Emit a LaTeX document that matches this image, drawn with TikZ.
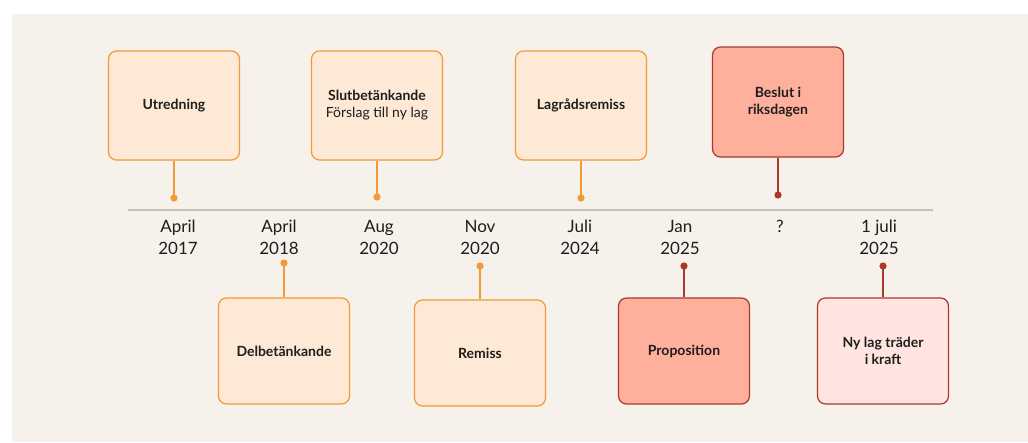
\documentclass[tikz,border=0pt]{standalone}
\usepackage{fontspec}
\setmainfont{Lato}

\definecolor{bgcream}{HTML}{F6F1EB}
\definecolor{axisgray}{HTML}{C4C0BB}
\definecolor{peachfill}{HTML}{FDE9D5}
\definecolor{orangeline}{HTML}{F39A35}
\definecolor{salmonfill}{HTML}{FFB09D}
\definecolor{rosefill}{HTML}{FFE4DF}
\definecolor{redline}{HTML}{A9392B}
\definecolor{textdark}{HTML}{1E1E1E}

\tikzset{
	stage/.style={draw, rounded corners=8pt, line width=1.2pt, minimum width=131pt,
		align=center, text=textdark, font=\fontsize{14}{17}\selectfont\bfseries},
	earlystage/.style={stage, fill=peachfill, draw=orangeline},
	hotstage/.style={stage, fill=salmonfill, draw=redline},
	softstage/.style={stage, fill=rosefill, draw=redline},
	datelabel/.style={align=center, text=textdark, font=\fontsize{17}{21.5}\selectfont},
	orangestem/.style={orangeline, line width=1.5pt},
	redstem/.style={redline, line width=1.5pt}
}

\begin{document}
\begin{tikzpicture}[x=1pt, y=-1pt]
	% Page and background
	\useasboundingbox (0,0) rectangle (1028,442);
	\fill[white] (0,0) rectangle (1028,442);
	\fill[bgcream] (12,14) rectangle (1028,442);

	% Time axis
	\coordinate (axisL) at (128,210);
	\coordinate (axisR) at (933,210);
	\draw[axisgray, line width=1.2pt] (axisL) -- (axisR);

	% Dates under the axis
	\foreach \x/\d [count=\i] in {178/{April\\2017}, 279/{April\\2018}, 379/{Aug\\2020},
		480/{Nov\\2020}, 580/{Juli\\2024}, 680/{Jan\\2025}, 780/{?\\~}, 879/{1 juli\\2025}} {
		\node[datelabel] (date\i) at (\x,237.5) {\d};
	}

	% Stages above the axis
	\node[earlystage, minimum height=109pt] (utredning) at (174,105.5) {Utredning};
	\node[earlystage, minimum height=109pt] (slutbet) at (377,105.5)
		{Slutbetänkande\\{\mdseries Förslag till ny lag}};
	\node[earlystage, minimum height=109pt] (lagrad) at (581,105.5) {Lagrådsremiss};
	\node[hotstage, minimum height=110pt] (beslut) at (778,102) {Beslut i\\riksdagen};

	% Stages below the axis
	\node[earlystage, minimum height=106pt] (delbet) at (284,351) {Delbetänkande};
	\node[earlystage, minimum height=106pt] (remiss) at (480,353) {Remiss};
	\node[hotstage, minimum height=106pt] (prop) at (684,351) {Proposition};
	\node[softstage, minimum height=106pt] (nylag) at (883,351) {Ny lag träder\\i kraft};

	% End points of the stems
	\coordinate (dotU) at (174,198);
	\coordinate (dotS) at (377,197);
	\coordinate (dotL) at (581,198);
	\coordinate (dotB) at (778,195);
	\coordinate (dotD) at (284,263);
	\coordinate (dotR) at (480,266);
	\coordinate (dotP) at (684,266);
	\coordinate (dotN) at (883,266);

	% Stems with dots
	\foreach \b/\c in {utredning/dotU, slutbet/dotS, lagrad/dotL} {
		\draw[orangestem] (\b.south) -- (\c);
		\fill[orangeline] (\c) circle (3.6pt);
	}
	\foreach \b/\c in {delbet/dotD, remiss/dotR} {
		\draw[orangestem] (\b.north) -- (\c);
		\fill[orangeline] (\c) circle (3.6pt);
	}
	\draw[redstem] (beslut.south) -- (dotB);
	\fill[redline] (dotB) circle (3.6pt);
	\foreach \b/\c in {prop/dotP, nylag/dotN} {
		\draw[redstem] (\b.north) -- (\c);
		\fill[redline] (\c) circle (3.6pt);
	}
\end{tikzpicture}
\end{document}
